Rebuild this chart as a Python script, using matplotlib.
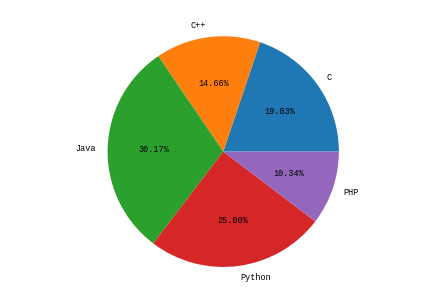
import matplotlib
matplotlib.use("Agg")
import matplotlib.pyplot as plt

labels = ["C", "C++", "Java", "Python", "PHP"]
values = [23, 17, 35, 29, 12]

plt.rcParams['font.family'] = ['Liberation Mono', 'DejaVu Sans Mono']
plt.rcParams['font.size'] = 8.5

fig = plt.figure(figsize=(6.2, 302/72), dpi=72)
ax = fig.add_subplot(111)
ax.pie(values, labels=labels, autopct='%.2f%%')
ax.set_aspect('auto')
ax.set_ylim(-1.016, 1.0)
ax.set_xlim(-1.448, 1.544)
fig.savefig("out.png", dpi=72)
